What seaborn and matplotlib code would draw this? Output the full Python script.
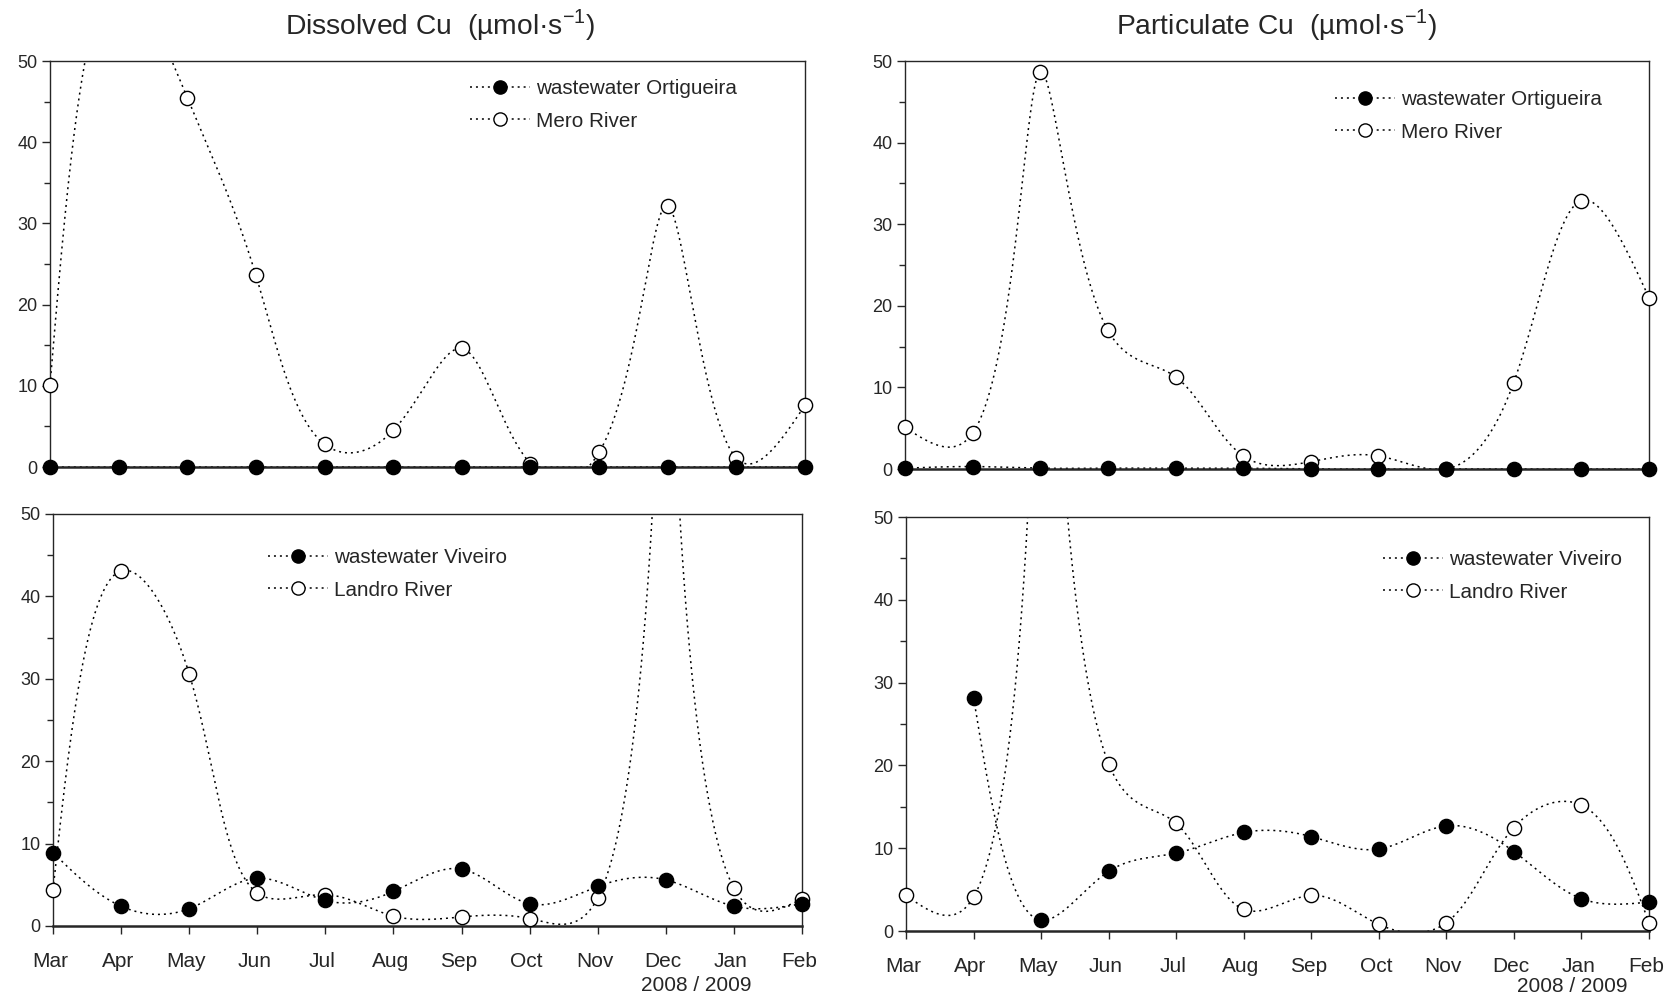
import numpy as np
import pandas as pd
import matplotlib
matplotlib.use("Agg")
import matplotlib.pyplot as plt
import seaborn as sns
from matplotlib.lines import Line2D
from matplotlib.ticker import MultipleLocator
import matplotlib.transforms as mtransforms

# --- DATA (µmol/s), Mar 2008 .. Feb 2009 ---
months = ["Mar", "Apr", "May", "Jun", "Jul", "Aug", "Sep", "Oct", "Nov", "Dec", "Jan", "Feb"]

diss_ww_ortigueira = [0.0, 0.0, 0.0, 0.0, 0.0, 0.0, 0.0, 0.0, 0.0, 0.0, 0.0, 0.0]
diss_mero = [10.1, 60.0, 45.5, 23.6, 2.8, 4.5, 14.6, 0.4, 1.8, 32.2, 1.1, 7.6]

part_ww_ortigueira = [0.1, 0.3, 0.1, 0.1, 0.1, 0.1, 0.0, 0.0, 0.0, 0.0, 0.0, 0.0]
part_mero = [5.1, 4.4, 48.7, 17.0, 11.3, 1.6, 0.9, 1.6, 0.0, 10.6, 32.9, 21.0]

diss_ww_viveiro = [8.9, 2.4, 2.1, 5.8, 3.1, 4.2, 6.9, 2.7, 4.8, 5.6, 2.4, 2.7]
diss_landro = [4.4, 43.1, 30.6, 4.0, 3.8, 1.2, 1.1, 0.9, 3.4, 100.0, 4.6, 3.3]

part_ww_viveiro = [np.nan, 28.2, 1.3, 7.2, 9.4, 11.9, 11.4, 9.9, 12.7, 9.6, 3.9, 3.5]
part_landro = [4.3, 4.1, 125.0, 20.2, 13.0, 2.6, 4.3, 0.8, 1.0, 12.5, 15.2, 1.0]

sns.set_theme(style="ticks")
plt.rcParams["font.family"] = ["Liberation Sans", "DejaVu Sans"]
plt.rcParams["mathtext.fontset"] = "custom"
plt.rcParams["mathtext.rm"] = "Liberation Sans"

DOT = (0, (1.3, 2.6))
W, H = 1675, 999


def natural_spline(t, v, ts):
    k = len(t)
    h = np.diff(t)
    A = np.zeros((k, k))
    b = np.zeros(k)
    A[0, 0] = A[-1, -1] = 1
    for i in range(1, k - 1):
        A[i, i - 1] = h[i - 1]
        A[i, i] = 2 * (h[i - 1] + h[i])
        A[i, i + 1] = h[i]
        b[i] = 3 * ((v[i + 1] - v[i]) / h[i] - (v[i] - v[i - 1]) / h[i - 1])
    c = np.linalg.solve(A, b)
    idx = np.clip(np.searchsorted(t, ts) - 1, 0, k - 2)
    dx = ts - t[idx]
    bb = (v[idx + 1] - v[idx]) / h[idx] - h[idx] * (2 * c[idx] + c[idx + 1]) / 3
    dd = (c[idx + 1] - c[idx]) / (3 * h[idx])
    return v[idx] + bb * dx + c[idx] * dx ** 2 + dd * dx ** 3


def smooth_curve(ax, x, y):
    # parametric cubic spline (centripetal knots, in screen units) - only for drawing
    bbox = ax.get_position()
    sx = bbox.width * W / 11
    sy = bbox.height * H / 50
    P = np.c_[np.asarray(x, float) * sx, np.asarray(y, float) * sy]
    d = np.linalg.norm(np.diff(P, axis=0), axis=1) ** 0.5
    t = np.r_[0, np.cumsum(d)]
    ts = np.linspace(0, t[-1], 3000)
    return natural_spline(t, P[:, 0], ts) / sx, natural_spline(t, P[:, 1], ts) / sy


def draw_series(ax, values, filled):
    df = pd.DataFrame({"x": np.arange(len(months)), "y": values}).dropna()
    xs, ys = smooth_curve(ax, df["x"].values, df["y"].values)
    sns.lineplot(x=xs, y=ys, ax=ax, color="black", lw=1.1,
                 linestyle=DOT, estimator=None, sort=False)
    shown = df[df["y"] <= 50]
    sns.scatterplot(data=shown, x="x", y="y", ax=ax, s=105,
                    color="black" if filled else "white",
                    edgecolor="black", linewidth=1.0, zorder=5, clip_on=False)


def style_axis(ax, bottom):
    ax.set_xlim(0, 11)
    ax.set_ylim(0, 50)
    ax.yaxis.set_major_locator(MultipleLocator(10))
    ax.yaxis.set_minor_locator(MultipleLocator(5))
    ax.tick_params(axis="y", which="major", direction="out", length=6, width=1, labelsize=13, pad=3)
    ax.tick_params(axis="y", which="minor", direction="out", length=4, width=1)
    ax.set_xticks(range(len(months)))
    if bottom:
        ax.set_xticklabels(months)
        ax.tick_params(axis="x", direction="out", length=6, width=1, labelsize=15, pad=13)
        shift = mtransforms.ScaledTranslation(-0.03, 0, fig.dpi_scale_trans)
        for lab in ax.get_xticklabels():
            lab.set_transform(lab.get_transform() + shift)
    else:
        ax.set_xticklabels([])
        ax.tick_params(axis="x", length=0)
    for s in ["top", "right", "left"]:
        ax.spines[s].set_linewidth(1.0)
    ax.spines["bottom"].set_linewidth(1.8)
    ax.set_xlabel("")
    ax.set_ylabel("")


def add_legend(ax, labels, x_px, row1_px):
    handles = [
        Line2D([], [], color="black", lw=1.1, linestyle=DOT, marker="o",
               markersize=9.5, markerfacecolor="black", markeredgecolor="black"),
        Line2D([], [], color="black", lw=1.1, linestyle=DOT, marker="o",
               markersize=9.5, markerfacecolor="white", markeredgecolor="black"),
    ]
    ax.legend(handles, labels, loc="upper left",
              bbox_to_anchor=(x_px / W, 1 - (row1_px - 11) / H), bbox_transform=fig.transFigure,
              frameon=False, fontsize=14.9, handlelength=2.9, handletextpad=0.3,
              labelspacing=0.66, borderaxespad=0, borderpad=0)


fig = plt.figure(figsize=(16.75, 9.99), dpi=100)
ax1 = fig.add_axes([50 / W, 1 - 467 / H, 755 / W, 406 / H])
ax2 = fig.add_axes([905 / W, 1 - 469 / H, 744 / W, 408 / H])
ax3 = fig.add_axes([53 / W, 1 - 926 / H, 749 / W, 412 / H])
ax4 = fig.add_axes([906 / W, 1 - 931 / H, 743 / W, 414 / H])

draw_series(ax1, diss_mero, False)
draw_series(ax1, diss_ww_ortigueira, True)
draw_series(ax2, part_mero, False)
draw_series(ax2, part_ww_ortigueira, True)
draw_series(ax3, diss_landro, False)
draw_series(ax3, diss_ww_viveiro, True)
draw_series(ax4, part_landro, False)
draw_series(ax4, part_ww_viveiro, True)

for ax, bottom in [(ax1, False), (ax2, False), (ax3, True), (ax4, True)]:
    style_axis(ax, bottom)

add_legend(ax1, ["wastewater Ortigueira", "Mero River"], 470, 90)
add_legend(ax2, ["wastewater Ortigueira", "Mero River"], 1335, 101)
add_legend(ax3, ["wastewater Viveiro", "Landro River"], 268, 559)
add_legend(ax4, ["wastewater Viveiro", "Landro River"], 1383, 561)

ax1.set_title("Dissolved Cu  (µmol·s$^{\\mathregular{-1}}$)", fontsize=20.3, pad=19, x=0.517)
ax2.set_title("Particulate Cu  (µmol·s$^{\\mathregular{-1}}$)", fontsize=20.3, pad=19, x=0.5)

for ax, xpos, off in [(ax3, 9.44, -43), (ax4, 9.86, -40)]:
    trans = mtransforms.blended_transform_factory(ax.transData, ax.transAxes)
    ax.annotate("2008 / 2009", xy=(xpos, 0), xycoords=trans, xytext=(0, off),
                textcoords="offset points", ha="center", va="center", fontsize=15)

fig.savefig("out.png", dpi=100)
